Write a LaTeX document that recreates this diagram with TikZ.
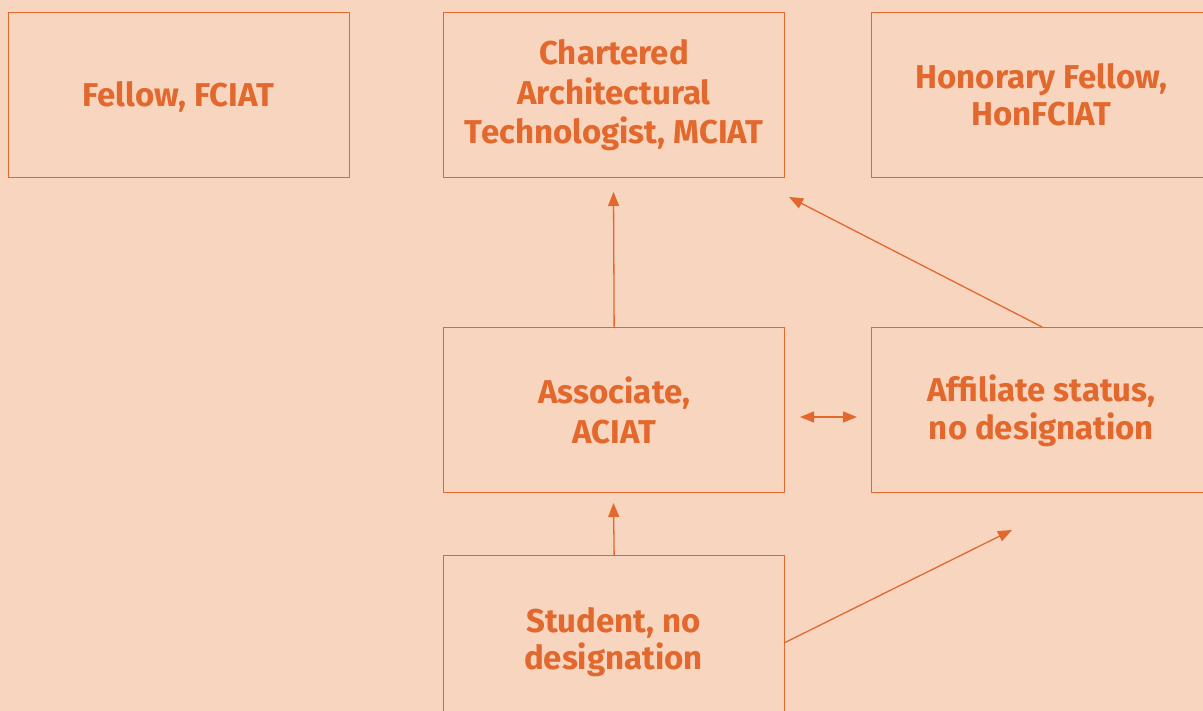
\documentclass[tikz,border=0pt]{standalone}
\usepackage{fontspec}
\setmainfont{Fira Sans}
\usetikzlibrary{arrows.meta}
\definecolor{bg}{HTML}{F7D5BE}
\definecolor{org}{HTML}{E2682E}
\begin{document}
\begin{tikzpicture}[x=1pt,y=-1pt,
  box/.style={draw=org,line width=1.3pt,minimum width=341pt,minimum height=165pt,inner sep=0pt,
    text=org,font=\bfseries\fontsize{33}{39.5}\selectfont,align=center,anchor=north west},
  lbl/.style={text=org,font=\bfseries\fontsize{33}{37.5}\selectfont,align=center},
  conn/.style={draw=org,line width=1.3pt,-{Triangle[length=14pt,width=11pt]}},
  dconn/.style={draw=org,line width=1.3pt,{Triangle[length=14pt,width=11pt]}-{Triangle[length=14pt,width=11pt]}}]
\useasboundingbox[fill=bg] (0,0) rectangle (1203,711);
\begin{scope}
\clip (0,0) rectangle (1203,711);
\node[box] (fel) at (8,12) {};
\node[lbl] (felt) at (178.5,97) {Fellow, FCIAT};
\node[box] (cha) at (443,12) {Chartered\\Architectural\\Technologist, MCIAT};
\node[box] (hon) at (871,12) {};
\node[lbl,font=\bfseries\fontsize{33}{36.5}\selectfont] (hont) at (1041.5,95) {Honorary Fellow,\\HonFCIAT};
\node[box] (ass) at (443,327) {Associate,\\ACIAT};
\node[box] (aff) at (871,327) {};
\node[lbl] (afft) at (1041.5,411) {Affiliate status,\\no designation};
\node[box] (stu) at (443,555) {};
\node[lbl] (stut) at (613.5,642) {Student, no\\designation};
\coordinate (c1) at (613.5,192);
\coordinate (c2) at (789,197);
\coordinate (c3) at (800,417);
\coordinate (c4) at (857,417);
\coordinate (c5) at (613.5,503);
\coordinate (c6) at (1012,530);
\coordinate (s6) at (784,643);
\draw[conn] (ass.north) -- (c1);
\draw[conn] (aff.north) -- (c2);
\draw[dconn] (c3) -- (c4);
\draw[conn] (stu.north) -- (c5);
\draw[conn] (s6) -- (c6);
\end{scope}
\end{tikzpicture}
\end{document}
